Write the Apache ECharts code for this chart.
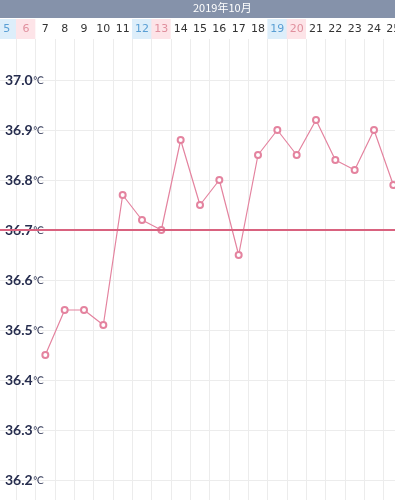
<!DOCTYPE html>
<html><head><meta charset="utf-8">
<script src="https://cdn.jsdelivr.net/npm/echarts@6/dist/echarts.min.js"></script>
<style>html,body{margin:0;padding:0;background:#fff}#c{width:395px;height:500px}</style>
</head><body><div id="c"></div>
<script>
const monthTitle = '2019年10月';
const days = [5,6,7,8,9,10,11,12,13,14,15,16,17,18,19,20,21,22,23,24,25];
const temps = [null,null,36.45,36.54,36.54,36.51,36.77,36.72,36.70,36.88,36.75,36.80,36.65,36.85,36.90,36.85,36.92,36.84,36.82,36.90,36.79];
const saturdays = [5,12,19];
const sundays = [6,13,20];
const coverLine = 36.7;
const yMin = 36.1, yMax = 37.1, yStep = 0.1;

const chart = echarts.init(document.getElementById('c'), null, {renderer:'canvas'});
const cellBase = {width:20, height:20, lineHeight:20, align:'center', fontSize:11, fontFamily:'DejaVu Sans'};
chart.setOption({
  animation:false,
  backgroundColor:'#fff',
  graphic:[{type:'rect', left:0, top:0, shape:{width:395, height:18}, style:{fill:'#8592aa'}, z:0}],
  title:{text:monthTitle, left:193, top:2, textStyle:{color:'#fff', fontSize:11, fontWeight:'normal', fontFamily:'Noto Sans CJK JP'}, padding:0},
  grid:{left:-3, top:30, width:406, height:500, containLabel:false, outerBoundsMode:'none'},
  xAxis:{
    type:'category', data:days.map(String), position:'top', offset:-9, boundaryGap:true,
    axisLine:{show:false}, axisTick:{show:false},
    splitLine:{show:true, interval:0, lineStyle:{color:'#ececec', width:1}},
    axisLabel:{interval:0, margin:0, formatter:function(v){
      const d = +v;
      if (saturdays.includes(d)) return '{sat|'+v+'}';
      if (sundays.includes(d)) return '{sun|'+v+'}';
      return '{wk|'+v+'}';
    }, rich:{
      sat:Object.assign({}, cellBase, {color:'#5a9fd4', backgroundColor:'#ddeefa'}),
      sun:Object.assign({}, cellBase, {color:'#e0909e', backgroundColor:'#fde4e8'}),
      wk:Object.assign({}, cellBase, {color:'#333', backgroundColor:'#fff'})
    }}
  },
  yAxis:{
    type:'value', min:yMin, max:yMax, interval:yStep,
    axisLine:{show:false}, axisTick:{show:false},
    splitLine:{show:true, lineStyle:{color:'#ececec', width:1}},
    axisLabel:{inside:true, margin:8, formatter:function(v){
      const t = Math.round(v*10)/10;
      if (t >= 37.05 || t <= 36.15) return '';
      return '{n|'+t.toFixed(1)+'}{u|℃}';
    }, rich:{
      n:{fontSize:14, color:'#262d4e', fontFamily:'Lato', fontWeight:'bold'},
      u:{fontSize:10, color:'#262d4e', fontFamily:'DejaVu Sans', padding:[2,0,0,0]}
    }}
  },
  series:[{
    type:'line', data:temps, connectNulls:false,
    symbol:'emptyCircle', symbolSize:6, showSymbol:true,
    lineStyle:{color:'#e4839f', width:1.2},
    itemStyle:{color:'#e4839f', borderWidth:1},
    markLine:{silent:true, symbol:'none', label:{show:false},
      lineStyle:{color:'#d9627f', width:2, type:'solid'},
      data:[{yAxis:coverLine}]}
  }]
});
</script></body></html>
